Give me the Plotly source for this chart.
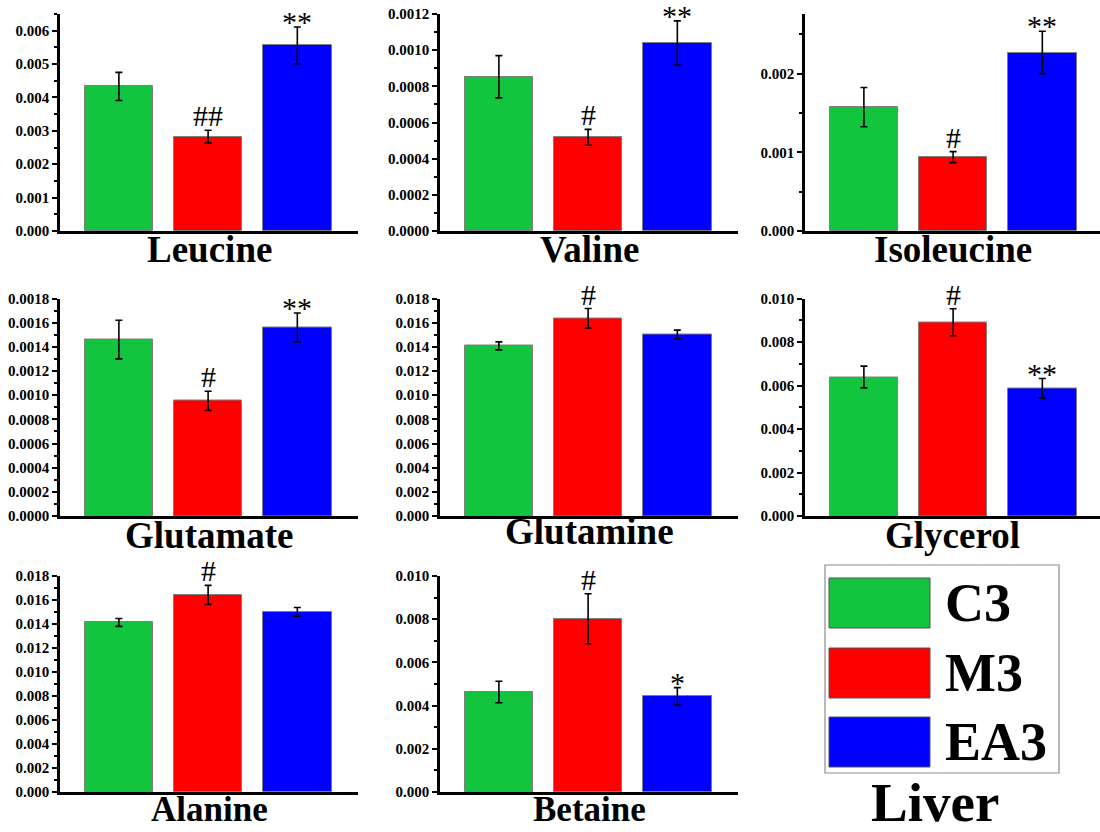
import plotly.graph_objects as go

# ---------------- data ----------------
metabolites = ["Leucine", "Valine", "Isoleucine", "Glutamate", "Glutamine",
               "Glycerol", "Alanine", "Betaine"]
groups = ["C3", "M3", "EA3"]
group_colors = ["#12C43E", "#FF0000", "#0000FF"]

c3_mean = [0.00433, 0.000853, 0.001576, 0.00146, 0.01408, 0.00639, 0.01413, 0.00463]
c3_err = [0.00042, 0.000117, 0.00025, 0.00016, 0.00033, 0.00050, 0.00033, 0.00050]
m3_mean = [0.00283, 0.000518, 0.00094, 0.000953, 0.01637, 0.00891, 0.01642, 0.00802]
m3_err = [0.00019, 0.000044, 0.00007, 0.00008, 0.00080, 0.00062, 0.00080, 0.00116]
ea3_mean = [0.00556, 0.00104, 0.00227, 0.00156, 0.01502, 0.00587, 0.01501, 0.00443]
ea3_err = [0.00055, 0.000122, 0.00027, 0.00012, 0.00036, 0.00045, 0.00037, 0.00040]

m3_sig = ["##", "#", "#", "#", "#", "#", "#", "#"]
ea3_sig = ["**", "**", "**", "**", "", "**", "", "*"]

y_max = [0.0065, 0.0012, 0.00276, 0.0018, 0.018, 0.010, 0.018, 0.010]
y_dtick = [0.001, 0.0002, 0.001, 0.0002, 0.002, 0.002, 0.002, 0.002]
y_format = [".3f", ".4f", ".3f", ".4f", ".3f", ".3f", ".3f", ".3f"]

panel_title = "Liver"

# ---------------- layout geometry (pixels) ----------------
W, H = 1100, 832
col_px = [(60, 358), (440, 738), (805, 1100)]
row_px = [(14, 231), (298.5, 516), (576, 792)]   # (top, bottom)
label_y_px = [[249, 249, 249], [535, 531, 535], [809, 809, None]]
label_size = [37, 37, 35]

FONT = "Liberation Serif, Times New Roman, serif"
means = [c3_mean, m3_mean, ea3_mean]
errs = [c3_err, m3_err, ea3_err]

fig = go.Figure()
layout = dict(template="none", width=W, height=H,
              margin=dict(l=0, r=0, t=0, b=0, pad=0, autoexpand=False),
              paper_bgcolor="white", plot_bgcolor="white",
              showlegend=False, bargap=0)
annotations = []
shapes = []

px_per_unit = (col_px[0][1] - col_px[0][0]) / 3.34

for i, name in enumerate(metabolites):
    r, c = divmod(i, 3)
    k = i + 1
    xa = "x" if k == 1 else f"x{k}"
    ya = "y" if k == 1 else f"y{k}"
    xl = "xaxis" if k == 1 else f"xaxis{k}"
    yl = "yaxis" if k == 1 else f"yaxis{k}"
    x0p, x1p = col_px[c]
    tp, bp = row_px[r]
    xr_lo = -0.66
    xr_hi = xr_lo + (x1p - x0p) / px_per_unit

    for g in range(3):
        fig.add_trace(go.Bar(
            x=[g], y=[means[g][i]], width=0.77,
            marker=dict(color=group_colors[g], line=dict(color="#7f7f7f", width=1)),
            error_y=dict(type="data", array=[errs[g][i]], visible=True,
                         color="black", thickness=1.6, width=3.5),
            xaxis=xa, yaxis=ya, name=groups[g], hoverinfo="skip"))

    layout[xl] = dict(domain=[x0p / W, x1p / W], range=[xr_lo, xr_hi],
                      showline=True, linecolor="black", linewidth=3,
                      showticklabels=False, ticks="", showgrid=False,
                      zeroline=False, anchor=ya, fixedrange=True, automargin=False)
    layout[yl] = dict(domain=[1 - bp / H, 1 - tp / H], range=[0, y_max[i]],
                      showline=True, linecolor="black", linewidth=2.5,
                      ticks="outside", ticklen=5, tickwidth=2, tickcolor="black",
                      dtick=y_dtick[i], tick0=0, tickformat=y_format[i],
                      minor=dict(dtick=y_dtick[i] / 2, ticks="outside", ticklen=3,
                                 tickwidth=1.5, tickcolor="black", showgrid=False),
                      tickfont=dict(family=FONT, size=15, color="black", weight="bold"),
                      showgrid=False, zeroline=False, anchor=xa, fixedrange=True,
                      automargin=False)

    # metabolite label
    annotations.append(dict(text=name, xref="paper", yref="paper",
                            x=((x0p + x1p) / 2) / W, y=1 - label_y_px[r][c] / H,
                            xanchor="center", yanchor="middle", showarrow=False,
                            font=dict(family=FONT, size=label_size[r], color="black",
                                      weight="bold")))
    # significance marks
    if m3_sig[i]:
        annotations.append(dict(text=m3_sig[i], xref=xa, yref=ya, x=1,
                                y=m3_mean[i] + m3_err[i], xanchor="center",
                                yanchor="bottom", yshift=-4, showarrow=False,
                                font=dict(family=FONT, size=30, color="black")))
    if ea3_sig[i]:
        annotations.append(dict(text=ea3_sig[i], xref=xa, yref=ya, x=2,
                                y=ea3_mean[i] + ea3_err[i], xanchor="center",
                                yanchor="bottom", yshift=-13, showarrow=False,
                                font=dict(family=FONT, size=30, color="black")))

# ---------------- legend panel ----------------
shapes.append(dict(type="rect", xref="paper", yref="paper",
                   x0=825 / W, x1=1059 / W, y0=1 - 773 / H, y1=1 - 565 / H,
                   line=dict(color="#8c8c8c", width=1.2), fillcolor="white"))
sw_top = [578, 648, 717]
for g in range(3):
    shapes.append(dict(type="rect", xref="paper", yref="paper",
                       x0=829 / W, x1=930 / W,
                       y0=1 - (sw_top[g] + 50) / H, y1=1 - sw_top[g] / H,
                       line=dict(color="#555555", width=1), fillcolor=group_colors[g]))
    annotations.append(dict(text=groups[g], xref="paper", yref="paper",
                            x=943 / W, y=1 - (sw_top[g] + 25) / H,
                            xanchor="left", yanchor="middle", showarrow=False,
                            font=dict(family=FONT, size=54, color="black", weight="bold")))
annotations.append(dict(text=panel_title, xref="paper", yref="paper",
                        x=935 / W, y=1 - 802 / H, xanchor="center", yanchor="middle",
                        showarrow=False,
                        font=dict(family=FONT, size=55, color="black", weight="bold")))

layout["annotations"] = annotations
layout["shapes"] = shapes
fig.update_layout(**layout)
fig.write_html("out.html", config={"displayModeBar": False},
               post_script="document.body.style.margin='0';document.body.style.overflow='hidden';")
